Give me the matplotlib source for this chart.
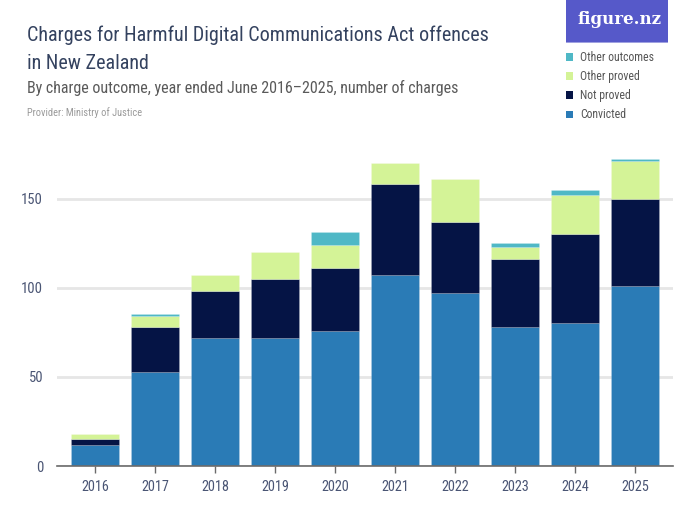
import matplotlib
matplotlib.use("Agg")
import matplotlib.pyplot as plt
from matplotlib.patches import Rectangle, Patch

years = ["2016", "2017", "2018", "2019", "2020", "2021", "2022", "2023", "2024", "2025"]
convicted = [12, 53, 72, 72, 76, 107, 97, 78, 80, 101]
not_proved = [3, 25, 26, 33, 35, 51, 40, 38, 50, 49]
other_proved = [3, 6, 9, 15, 13, 12, 24, 7, 22, 21]
other_outcomes = [0, 1, 0, 0, 7, 0, 0, 2, 3, 1]

series_names = ["Convicted", "Not proved", "Other proved", "Other outcomes"]
series_colors = ["#2a7bb6", "#051445", "#d4f397", "#4fb8c6"]
yticks = [0, 50, 100, 150]

plt.rcParams["font.family"] = ["Roboto Condensed", "DejaVu Sans"]

W, H = 700, 525
fig = plt.figure(figsize=(7, 5.25), dpi=100)
ax = fig.add_axes([57 / W, 1 - 466 / H, (673 - 57) / W, (466 - 154) / H])

x = list(range(len(years)))
bottom = [0] * len(years)
for vals, name, col in zip([convicted, not_proved, other_proved, other_outcomes], series_names, series_colors):
    ax.bar(x, vals, 0.8, bottom=bottom, color=col, label=name, zorder=3,
           edgecolor=(1, 1, 1, 0.25), linewidth=0.4)
    bottom = [b + v for b, v in zip(bottom, vals)]

ax.set_xlim(-0.633, len(years) - 1 + 0.633)
ax.set_ylim(0, 175)
ax.set_xticks(x)
ax.set_xticklabels(years)
ax.set_yticks(yticks)
ax.set_yticklabels([str(t) for t in yticks])
ax.grid(axis="y", color="#e6e6e6", linewidth=2, zorder=0)
for s in ["top", "right", "left"]:
    ax.spines[s].set_visible(False)
ax.spines["bottom"].set_color("#6b6b6b")
ax.spines["bottom"].set_linewidth(1.2)
ax.spines["bottom"].set_zorder(4)
ax.tick_params(axis="y", length=0, pad=10, labelsize=10.5, labelcolor="#4a5574")
ax.tick_params(axis="x", length=5, width=1, color="#6b6b6b", pad=5, labelsize=10.3, labelcolor="#4a5574")

# Titles
fig.text(27 / W, 1 - 41 / H, "Charges for Harmful Digital Communications Act offences",
         fontsize=14.5, color="#34425f", va="baseline", ha="left")
fig.text(27 / W, 1 - 69 / H, "in New Zealand",
         fontsize=14.5, color="#34425f", va="baseline", ha="left")
fig.text(27 / W, 1 - 93 / H, "By charge outcome, year ended June 2016\u20132025, number of charges",
         fontsize=11.5, color="#5a5a5a", va="baseline", ha="left")
fig.text(27 / W, 1 - 116 / H, "Provider: Ministry of Justice",
         fontsize=7.5, color="#9a9a9a", va="baseline", ha="left")

# Logo
fig.add_artist(Rectangle((566 / W, 1 - 42 / H), 102 / W, 42 / H, transform=fig.transFigure,
                         facecolor="#5659c9", edgecolor="none"))
fig.add_artist(Rectangle((566 / W, 1 - 43 / H), 102 / W, 1.2 / H, transform=fig.transFigure,
                         facecolor="#9fa1e0", edgecolor="none"))
fig.text(619 / W, 1 - 20 / H, "figure.nz", fontsize=12, color="white", fontweight="bold",
         family=["DejaVu Serif"], ha="center", va="center")

# Legend
handles = [Patch(facecolor=c, edgecolor="none", label=n) for n, c in zip(series_names, series_colors)][::-1]
leg = fig.legend(handles=handles, loc="upper left", bbox_to_anchor=(566 / W, 1 - 51 / H),
                 frameon=False, fontsize=8.5, handlelength=0.6, handleheight=0.6,
                 handletextpad=0.6, labelspacing=0.52, borderpad=0, borderaxespad=0)
for t in leg.get_texts():
    t.set_color("#555555")

fig.savefig("out.png", dpi=100)
